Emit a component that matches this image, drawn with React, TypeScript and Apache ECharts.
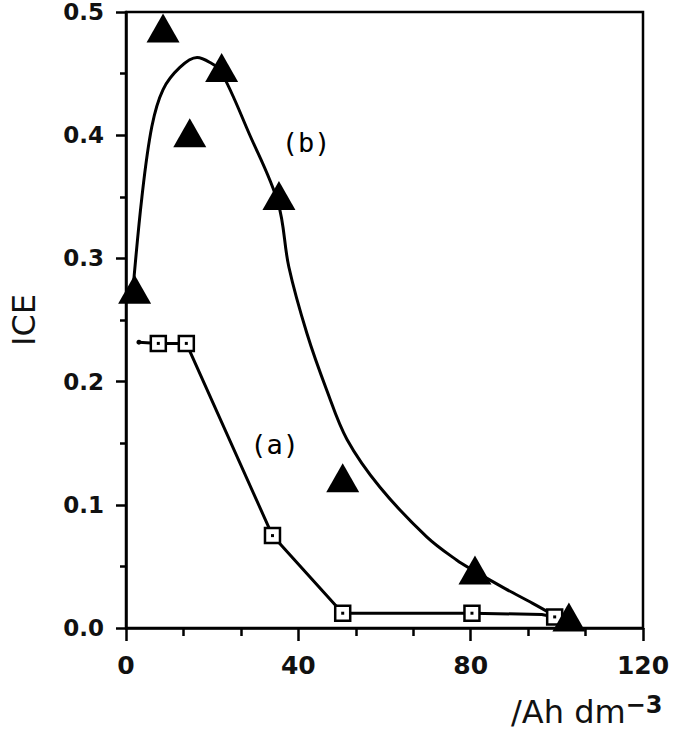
import React, { useEffect, useRef } from "react";
import * as echarts from "echarts";

// (a) series: squares
const seriesA: [number, number][] = [
  [7.5, 0.231], [14, 0.231], [34, 0.075], [50.3, 0.012], [80.3, 0.012], [99.5, 0.009],
];
const lineA: [number, number][] = [
  [3, 0.232], [7.5, 0.231], [14, 0.231], [34, 0.075], [50.3, 0.012], [80.3, 0.012], [96.5, 0.011], [99.5, 0.009],
];
// (b) series: triangles
const seriesB: [number, number][] = [
  [2, 0.275], [8.6, 0.487], [14.8, 0.402], [22.2, 0.455], [35.5, 0.351], [50.3, 0.122], [81, 0.047], [102.8, 0.009],
];
// (b) fitted curve
const curveB: [number, number][] = [
  [1.5, 0.27], [3.7, 0.35], [6, 0.407], [8.6, 0.437], [12.5, 0.455], [16.5, 0.463], [19.5, 0.459],
  [22, 0.452], [28.5, 0.402], [35.3, 0.345], [37.8, 0.293], [42, 0.239], [46.6, 0.193], [51.3, 0.153],
  [59, 0.114], [69.8, 0.074], [76.8, 0.055], [80.5, 0.047], [88, 0.032], [94.4, 0.02], [99, 0.011],
];
const annotations: { x: number; y: number; text: string }[] = [
  { x: 41.8, y: 0.394, text: "(b)" },
  { x: 34.5, y: 0.149, text: "(a)" },
];
const xTicks = [0, 40, 80, 120];
const yTicks = [0, 0.1, 0.2, 0.3, 0.4, 0.5];

export default function App() {
  const ref = useRef<HTMLDivElement>(null);
  useEffect(() => {
    if (!ref.current) return;
    const chart = echarts.init(ref.current, undefined, { renderer: "svg" });
    const tickFont = { fontFamily: "DejaVu Sans", fontWeight: "bold" as const, color: "#111" };
    chart.setOption({
      animation: false,
      backgroundColor: "#fff",
      grid: {
        left: 126, right: 42, top: 12, bottom: 106,
        outerBoundsMode: "none", containLabel: false,
        show: true, borderColor: "#000", borderWidth: 2.5, backgroundColor: "transparent",
      },
      xAxis: {
        type: "value", min: xTicks[0], max: xTicks[xTicks.length - 1], interval: 40,
        axisLine: { lineStyle: { color: "#000", width: 2.5 } },
        axisTick: { show: true, inside: false, length: 13, lineStyle: { color: "#000", width: 2.5 } },
        minorTick: { show: true, splitNumber: 3, length: 8, lineStyle: { color: "#000", width: 2.5 } },
        splitLine: { show: false },
        axisLabel: { ...tickFont, fontSize: 25, margin: 25, formatter: (v: number) => String(v) },
      },
      yAxis: {
        type: "value", min: yTicks[0], max: yTicks[yTicks.length - 1], interval: 0.1,
        axisLine: { lineStyle: { color: "#000", width: 2.5 } },
        axisTick: { show: true, inside: false, length: 10, lineStyle: { color: "#000", width: 2.5 } },
        minorTick: { show: true, splitNumber: 2, length: 6, lineStyle: { color: "#000", width: 2.5 } },
        splitLine: { show: false },
        axisLabel: { ...tickFont, fontSize: 23, margin: 22, formatter: (v: number) => v.toFixed(1) },
        name: "ICE", nameLocation: "middle", nameGap: 86, nameRotate: 90,
        nameTextStyle: { fontFamily: "DejaVu Sans", fontSize: 32, color: "#111" },
      },
      graphic: [
        {
          type: "text", left: 511, top: 693,
          style: {
            text: "/Ah dm{sup|−3}", fill: "#111",
            font: "32px 'DejaVu Sans'",
            rich: { sup: { fontSize: 24, fontFamily: "DejaVu Sans", fontWeight: "bold", verticalAlign: "top", padding: [0, 0, 14, 0] } },
          },
        },
      ],
      series: [
        {
          type: "line", data: lineA, showSymbol: false, symbol: "none",
          lineStyle: { color: "#000", width: 3 }, z: 2,
        },
        {
          type: "line", data: curveB, smooth: 0.35, showSymbol: false, symbol: "none",
          lineStyle: { color: "#000", width: 3 }, z: 2,
        },
        {
          type: "scatter", data: seriesA, symbol: "rect", symbolSize: 15,
          itemStyle: { color: "#fff", borderColor: "#000", borderWidth: 2.5, opacity: 1 }, z: 3,
        },
        {
          type: "scatter", data: seriesA, symbol: "rect", symbolSize: 3,
          itemStyle: { color: "#000", opacity: 1 }, z: 4,
        },
        {
          type: "scatter", data: [[3, 0.232]], symbol: "circle", symbolSize: 5,
          itemStyle: { color: "#000", opacity: 1 }, z: 4,
        },
        {
          type: "scatter", data: seriesB, symbol: "triangle", symbolSize: [33, 29],
          itemStyle: { color: "#000", opacity: 1 }, z: 5,
        },
        {
          type: "scatter", data: annotations.map((a) => [a.x, a.y, a.text]), symbolSize: 0,
          itemStyle: { opacity: 1 },
          label: {
            show: true, position: "inside", formatter: (p: any) => p.data[2],
            fontFamily: "DejaVu Sans Mono", fontSize: 27, color: "#000", opacity: 1,
          },
          z: 6,
        },
      ],
    });
    return () => chart.dispose();
  }, []);
  return <div ref={ref} style={{ width: 685, height: 734, position: "absolute", left: 0, top: 0 }} />;
}
